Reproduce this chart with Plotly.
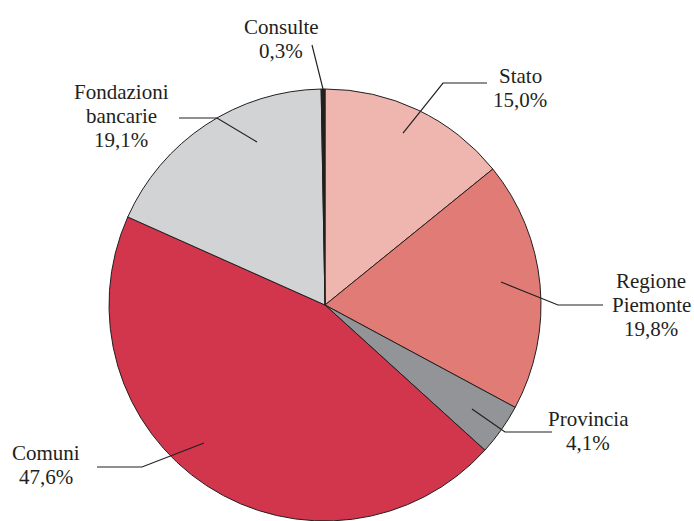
import plotly.graph_objects as go

# ---- data ----
categories = ["Stato", "Regione Piemonte", "Provincia", "Comuni", "Fondazioni bancarie", "Consulte"]
values = [15.0, 19.8, 4.1, 47.6, 19.1, 0.3]
value_labels = ["15,0%", "19,8%", "4,1%", "47,6%", "19,1%", "0,3%"]
label_lines = [["Stato"], ["Regione", "Piemonte"], ["Provincia"], ["Comuni"], ["Fondazioni", "bancarie"], ["Consulte"]]

# ---- style ----
colors = ["#EFB6AF", "#E07B76", "#929497", "#D1364C", "#D1D3D4", "#231F20"]
INK = "#231F20"
W, H = 694, 521
FONT = "Liberation Serif"
FSIZE = 21
LINE_GAP = 24

# label layout in pixels (text block center, leader path points)
label_pos = [
    dict(tx=520, ty=88, path=[(403, 133), (443, 83), (487, 83)]),
    dict(tx=651, ty=305, path=[(501, 282), (558, 305), (603, 305)]),
    dict(tx=588, ty=431, path=[(472, 409), (505, 432), (552, 432)]),
    dict(tx=46, ty=465, path=[(204, 443), (142, 467), (97, 467)]),
    dict(tx=121, ty=116, path=[(257, 142), (217, 118), (179, 118)]),
    dict(tx=281, ty=39, path=[(323, 89), (312, 45)]),
]

def px(x):
    return x / W

def py(y):
    return 1 - y / H

fig = go.Figure(go.Pie(
    labels=categories,
    values=values,
    sort=False,
    direction="clockwise",
    rotation=0,
    marker=dict(colors=colors, line=dict(color=INK, width=1)),
    textinfo="none",
    hoverinfo="skip",
    showlegend=False,
    domain=dict(x=[109 / W, 541 / W], y=[0, 432 / H]),
))

annotations = []
shapes = []
for lines, vlab, pos in zip(label_lines, value_labels, label_pos):
    all_lines = lines + [vlab]
    n = len(all_lines)
    for i, t in enumerate(all_lines):
        yy = pos["ty"] + (i - (n - 1) / 2) * LINE_GAP
        annotations.append(dict(
            x=px(pos["tx"]), y=py(yy), xref="paper", yref="paper",
            text=t, showarrow=False, xanchor="center", yanchor="middle",
            font=dict(family=FONT, size=FSIZE, color=INK),
        ))
    pts = pos["path"]
    d = "M " + " L ".join(f"{px(x):.5f},{py(y):.5f}" for x, y in pts)
    shapes.append(dict(type="path", xref="paper", yref="paper", path=d,
                       line=dict(color=INK, width=1.2)))

fig.update_layout(
    width=W, height=H,
    margin=dict(l=0, r=0, t=0, b=0),
    paper_bgcolor="white", plot_bgcolor="white",
    annotations=annotations,
    shapes=shapes,
)

fig.write_html(
    "out.html",
    config={"displayModeBar": False},
    post_script="document.body.style.margin='0';document.body.style.overflow='hidden';",
)
